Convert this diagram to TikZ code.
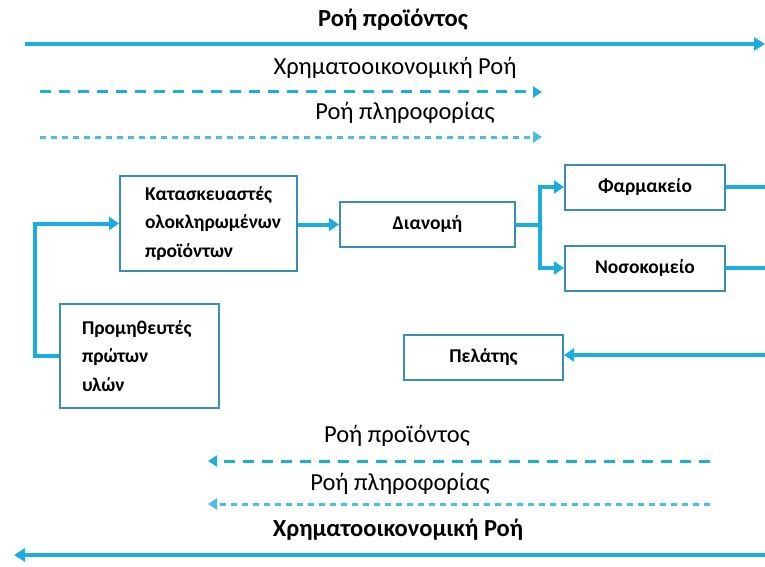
\documentclass[tikz,border=0pt]{standalone}
\usepackage{fontspec}
\setmainfont{Carlito}
\usetikzlibrary{positioning}
\usetikzlibrary{calc}
\usetikzlibrary{arrows.meta}
\definecolor{flowblue}{RGB}{27,173,224}
\definecolor{boxblue}{RGB}{58,141,181}

\begin{document}
\begin{tikzpicture}[x=1pt, y=-1pt,
    box/.style={draw=boxblue, line width=2pt, minimum height=45pt, inner sep=0pt},
    flow/.style={flowblue, line width=4.5pt, -{Triangle[length=11pt, width=13pt]}},
    link/.style={flowblue, line width=4pt, -{Triangle[length=10pt, width=13pt]}},
    plain/.style={flowblue, line width=4pt},
    money/.style={flowblue, line width=3pt, dash pattern=on 11pt off 8pt, -{Triangle[length=9pt, width=11pt]}},
    info/.style={flowblue!80, line width=3pt, dash pattern=on 6pt off 5pt, -{Triangle[length=9pt, width=11pt]}},
    title/.style={font=\fontsize{24.5}{28}\selectfont\bfseries},
    label/.style={font=\fontsize{24.5}{28}\selectfont},
    boxtext/.style={font=\fontsize{19.5}{28.5}\selectfont\bfseries}]
    \useasboundingbox (0,0) rectangle (765,567);

    % top: flows to the right
    \node[title] (top) at (393,20) {Ροή προϊόντος};
    \coordinate (topA) at (25,44);
    \coordinate (topB) at (765,44);
    \draw[flow] (topA) -- (topB);
    \node[label] (fin) at (395,68) {Χρηματοοικονομική Ροή};
    \coordinate (finA) at (40,92);
    \coordinate (finB) at (542,92);
    \draw[money] (finA) -- (finB);
    \node[label] (inf) at (405,113) {Ροή πληροφορίας};
    \coordinate (infA) at (40,137);
    \coordinate (infB) at (542,137);
    \draw[info] (infA) -- (infB);

    % chain
    \node[box, minimum width=177pt, minimum height=95pt, boxtext, align=left, text width=127pt] (maker) at (208.5,223.5)
        {Κατασκευαστές\\ολοκληρωμένων\\προϊόντων};
    \node[box, minimum width=159pt, minimum height=104pt, boxtext, align=left, text width=115pt] (supply) at (139.5,356)
        {Προμηθευτές\\πρώτων\\υλών};
    \node[box, minimum width=175pt, boxtext] (dist) at (427.5,224.5) {Διανομή};
    \node[box, minimum width=160pt, boxtext] (pharm) at (645,187) {Φαρμακείο};
    \node[box, minimum width=160pt, boxtext] (hosp) at (645,268) {Νοσοκομείο};
    \node[box, minimum width=159pt, boxtext] (client) at (483.5,357) {Πελάτης};

    \coordinate (split) at (540,224.5);
    \coordinate (pharmEnd) at (765,187);
    \coordinate (hospEnd) at (765,268);
    \coordinate (clientEnd) at (765,355);

    \draw[link] (supply.west) -- ++(-24,0) |- (maker.west);
    \draw[link] (maker.east |- dist.west) -- (dist.west);
    \draw[plain] (dist.east) -- (split);
    \draw[link] (split) |- (pharm.west);
    \draw[link] (split) |- (hosp.west);
    \draw[plain] (pharm.east) -- (pharmEnd);
    \draw[plain] (hosp.east) -- (hospEnd);
    \draw[link] (clientEnd) -- (client.east |- clientEnd);

    % bottom: flows to the left
    \node[label] (prod2) at (397,436) {Ροή προϊόντος};
    \coordinate (prodA) at (710,461);
    \coordinate (prodB) at (208,461);
    \draw[money] (prodA) -- (prodB);
    \node[label] (inf2) at (400,484) {Ροή πληροφορίας};
    \coordinate (inf2A) at (710,504);
    \coordinate (inf2B) at (208,504);
    \draw[info] (inf2A) -- (inf2B);
    \node[title] (fin2) at (398,530) {Χρηματοοικονομική Ροή};
    \coordinate (botA) at (765,555);
    \coordinate (botB) at (14,555);
    \draw[flow] (botA) -- (botB);
\end{tikzpicture}
\end{document}
